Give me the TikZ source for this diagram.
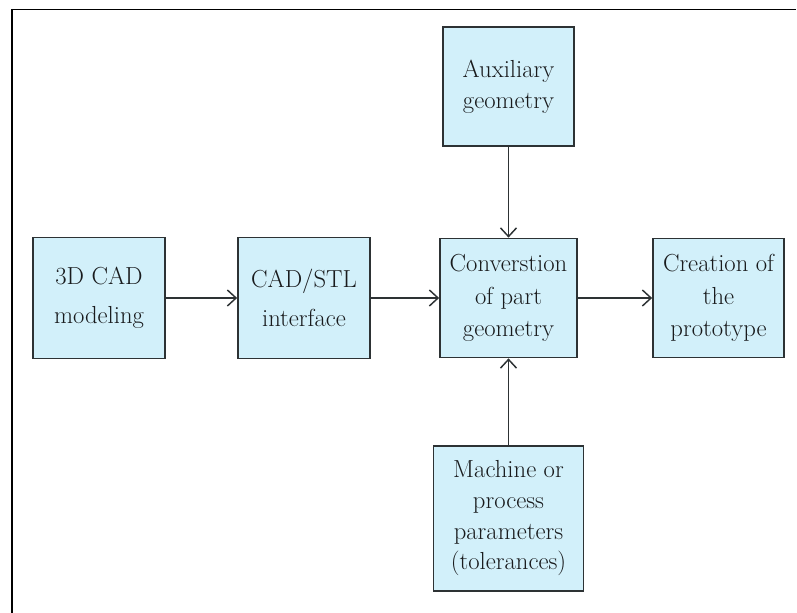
\documentclass[tikz,border=0pt]{standalone}
\usetikzlibrary{arrows.meta}
\definecolor{boxfill}{RGB}{210,240,250}
\definecolor{boxline}{RGB}{45,50,52}
\definecolor{txt}{RGB}{25,27,29}
\begin{document}
\begin{tikzpicture}[x=0.75pt,y=-0.75pt,
  blk/.style={draw=boxline,fill=boxfill,line width=1.3pt,align=center,
    text=txt,inner sep=0pt,font=\fontsize{18.5pt}{23pt}\selectfont},
  wide/.style={font=\fontsize{18.5pt}{29pt}\selectfont},
  mid/.style={font=\fontsize{18.5pt}{24.5pt}\selectfont},
  conn/.style={draw=boxline,line width=1.1pt,-{Straight Barb[length=6.5pt,width=12pt,line width=1.1pt]}}]
\useasboundingbox (0,0) rectangle (797,613);
% frame
\draw[line width=0.9pt] (11,9.5) -- (796,9.5);
\draw[line width=1.6pt] (12,9) -- (12,613);
% nodes
\node[blk,wide,minimum width=99pt,minimum height=90.75pt] (cad) at (99,298) {3D CAD\\modeling};
\node[blk,wide,minimum width=99pt,minimum height=90.75pt] (stl) at (304,298) {CAD/STL\\interface};
\node[blk,mid,minimum width=102.75pt,minimum height=89.25pt] (conv) at (508.5,298) {Converstion\\of part\\geometry};
\node[blk,mid,minimum width=98.25pt,minimum height=89.25pt] (crea) at (718.5,298) {Creation of\\the\\prototype};
\node[blk,minimum width=98.25pt,minimum height=89.25pt] (aux) at (508.5,86.5) {Auxiliary\\geometry};
\node[blk,minimum width=112.5pt,minimum height=108.75pt] (mach) at (508.5,518.5) {Machine or\\process\\parameters\\(tolerances)};
% connectors
\draw[conn] (cad.east) -- (stl.west);
\draw[conn] (stl.east) -- (conv.west);
\draw[conn] (conv.east) -- (crea.west);
\draw[conn] (aux.south) -- (conv.north);
\draw[conn] (mach.north) -- (conv.south);
\end{tikzpicture}
\end{document}
